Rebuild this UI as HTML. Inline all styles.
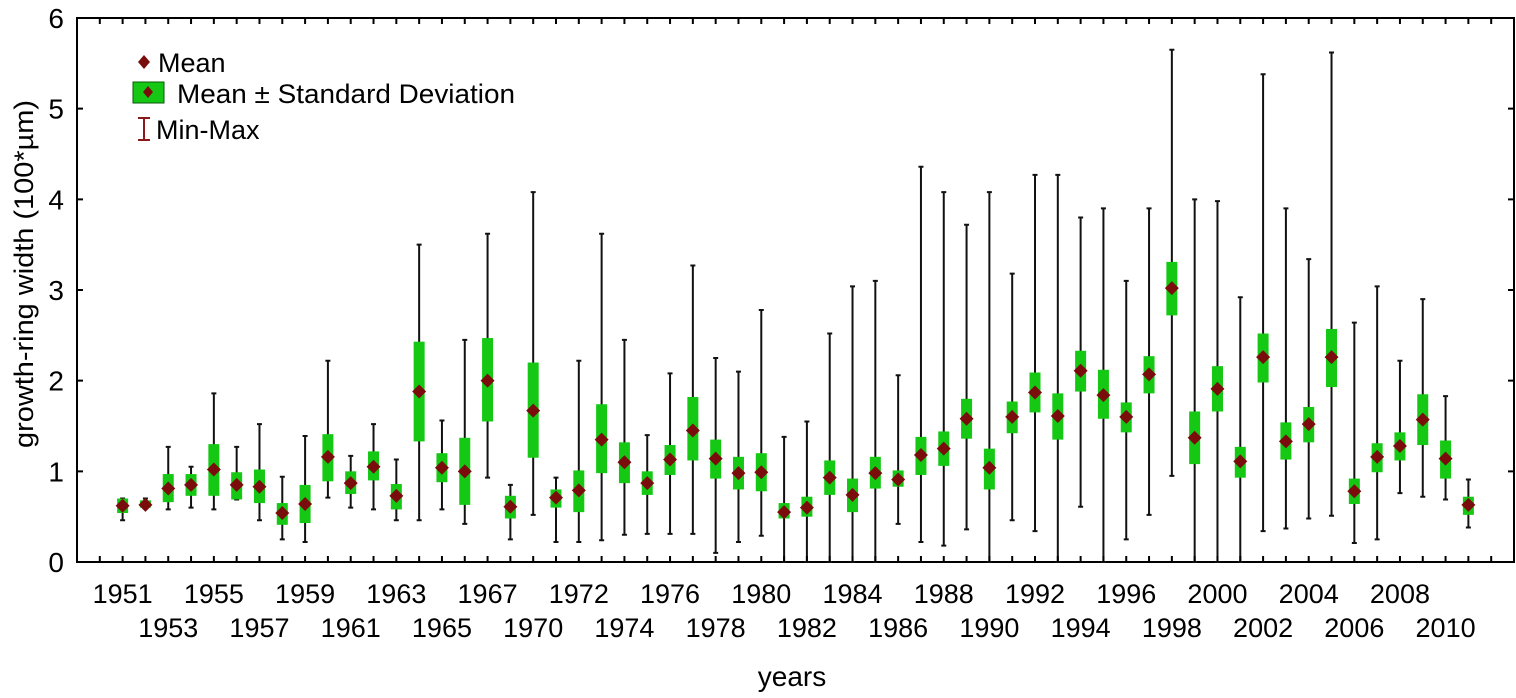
<!DOCTYPE html>
<html><head><meta charset="utf-8"><style>
html,body{margin:0;padding:0;background:#fff;}
svg{display:block;font-family:"Liberation Sans",Arial,sans-serif;}
</style></head><body>
<svg id="chart" width="1516" height="698" viewBox="0 0 1516 698" xmlns="http://www.w3.org/2000/svg">
  <rect x="77" y="18" width="1437" height="544" fill="none" stroke="#000" stroke-width="2"/>
  <g id="marks"></g>
  <g id="axes"></g>
  <text transform="translate(33,274) rotate(-90)" text-anchor="middle" font-size="27" textLength="348" lengthAdjust="spacingAndGlyphs" fill="#000">growth-ring width (100*µm)</text>
  <text x="792" y="686" text-anchor="middle" font-size="28" fill="#000">years</text>
  <g>
    <path d="M144,55 L150,62 L144,69 L138,62 Z" fill="#7a0c0c"/>
    <text x="158" y="72" font-size="27">Mean</text>
    <rect x="133" y="82" width="31" height="21" fill="#14c814" stroke="#0a5a0a" stroke-width="1"/>
    <path d="M148,86 L153,92 L148,98 L143,92 Z" fill="#7a0c0c"/>
    <text x="177" y="103" font-size="27" textLength="338" lengthAdjust="spacingAndGlyphs">Mean ± Standard Deviation</text>
    <path d="M138,118 H150 M144,118 V140 M138,140 H150" stroke="#8b1a1a" stroke-width="2" fill="none"/>
    <text x="156" y="139" font-size="27">Min-Max</text>
  </g>
</svg>
<script>
const years = ["1951","1952","1953","1954","1955","1956","1957","1958","1959","1960","1961","1962","1963","1964","1965","1966","1967","1968","1970","1971","1972","1973","1974","1975","1976","1977","1978","1979","1980","1981","1982","1983","1984","1985","1986","1987","1988","1989","1990","1991","1992","1993","1994","1995","1996","1997","1998","1999","2000","2001","2002","2003","2004","2005","2006","2007","2008","2009","2010","2011"];
const means = [0.62,0.63,0.81,0.85,1.02,0.85,0.83,0.54,0.64,1.16,0.87,1.05,0.73,1.88,1.04,1.00,2.00,0.61,1.67,0.71,0.79,1.35,1.10,0.87,1.13,1.45,1.14,0.98,0.99,0.55,0.60,0.93,0.74,0.98,0.91,1.18,1.25,1.58,1.04,1.60,1.87,1.61,2.11,1.84,1.60,2.07,3.02,1.37,1.91,1.11,2.26,1.33,1.52,2.26,0.78,1.16,1.28,1.57,1.14,0.63];
const sdLow = [0.54,0.60,0.66,0.73,0.73,0.69,0.65,0.41,0.43,0.89,0.75,0.90,0.58,1.33,0.88,0.63,1.55,0.48,1.15,0.60,0.55,0.98,0.87,0.74,0.96,1.12,0.92,0.80,0.78,0.48,0.50,0.74,0.55,0.81,0.83,0.96,1.06,1.36,0.80,1.42,1.65,1.35,1.88,1.58,1.43,1.86,2.72,1.08,1.66,0.93,1.98,1.13,1.32,1.93,0.64,0.99,1.12,1.29,0.92,0.52];
const sdHigh = [0.70,0.68,0.97,0.97,1.30,0.99,1.02,0.65,0.85,1.41,1.00,1.22,0.86,2.43,1.20,1.37,2.47,0.73,2.20,0.80,1.01,1.74,1.32,1.00,1.29,1.82,1.35,1.16,1.20,0.65,0.72,1.12,0.92,1.16,1.01,1.38,1.44,1.80,1.25,1.77,2.09,1.86,2.33,2.12,1.76,2.27,3.31,1.66,2.16,1.27,2.52,1.54,1.71,2.57,0.92,1.31,1.43,1.85,1.34,0.72];
const minVals = [0.46,0.60,0.58,0.60,0.58,0.69,0.46,0.25,0.22,0.71,0.60,0.58,0.46,0.46,0.58,0.42,0.93,0.25,0.52,0.22,0.22,0.24,0.30,0.31,0.31,0.31,0.10,0.22,0.29,0,0,0,0,0,0.42,0.22,0.18,0.36,0,0.46,0.34,0,0.61,0,0.25,0.52,0.95,0,0,0,0.34,0.37,0.48,0.51,0.21,0.25,0.76,0.72,0.69,0.38];
const maxVals = [0.70,0.70,1.27,1.05,1.86,1.27,1.52,0.94,1.39,2.22,1.17,1.52,1.13,3.50,1.56,2.45,3.62,0.85,4.08,0.93,2.22,3.62,2.45,1.40,2.08,3.27,2.25,2.10,2.78,1.38,1.55,2.52,3.04,3.10,2.06,4.36,4.08,3.72,4.08,3.18,4.27,4.27,3.80,3.90,3.10,3.90,5.65,4.00,3.98,2.92,5.38,3.90,3.34,5.62,2.64,3.04,2.22,2.90,1.83,0.91];
const yTicks = [0,1,2,3,4,5,6];

const NS = "http://www.w3.org/2000/svg";
const L = 77, R = 1514, T = 18, B = 562;
const nSlots = years.length + 3;
const step = (R - L) / nSlots;
function xPos(i) { return L + step * (i + 2); }
function yPos(v) { return B - (v / 6) * (B - T); }
function mk(tag, attrs, parent) {
  const e = document.createElementNS(NS, tag);
  for (const k in attrs) e.setAttribute(k, attrs[k]);
  parent.appendChild(e);
  return e;
}
const marks = document.getElementById("marks");
const axes = document.getElementById("axes");

years.forEach((yr, i) => {
  const x = xPos(i);
  const g = mk("g", {}, marks);
  
  
  const w = mk("path", {d: `M${x},${yPos(minVals[i])} V${yPos(maxVals[i])} M${x-2.5},${yPos(maxVals[i])} H${x+2.5} M${x-2.5},${yPos(minVals[i])} H${x+2.5}`, stroke: "#111", "stroke-width": 2, fill: "none"}, g);
  
  
  const b = mk("rect", {x: x - 5.5, y: yPos(sdHigh[i]), width: 11, height: yPos(sdLow[i]) - yPos(sdHigh[i]), fill: "#14c814"}, g);
  
  
  const y = yPos(means[i]);
  const d = mk("path", {d: `M${x},${y-7} L${x+7},${y} L${x},${y+7} L${x-7},${y} Z`, fill: "#7a0c0c"}, g);
  
  
});

for (let p = 1; p < nSlots; p++) {
  const x = L + step * p;
  const t = mk("path", {d: `M${x},${B} V${B-6} M${x},${T} V${T+6}`, stroke: "#000", "stroke-width": 2}, axes);
  
  
}
years.forEach((yr, i) => {
  if (i % 2 !== 0) return;
  const top = (i / 2) % 2 === 0;
  const t = mk("text", {x: xPos(i), y: top ? 603 : 637, "text-anchor": "middle", "font-size": 27, fill: "#000"}, axes);
  t.textContent = yr;
  
  
});
yTicks.forEach(v => {
  const y = yPos(v);
  const t = mk("path", {d: `M${L},${y} H${L+6} M${R},${y} H${R-6}`, stroke: "#000", "stroke-width": 2}, axes);
  
  
  const lb = mk("text", {x: 64, y: y + 10, "text-anchor": "end", "font-size": 28, fill: "#000"}, axes);
  lb.textContent = v;
  
  
});
</script>
</body></html>
